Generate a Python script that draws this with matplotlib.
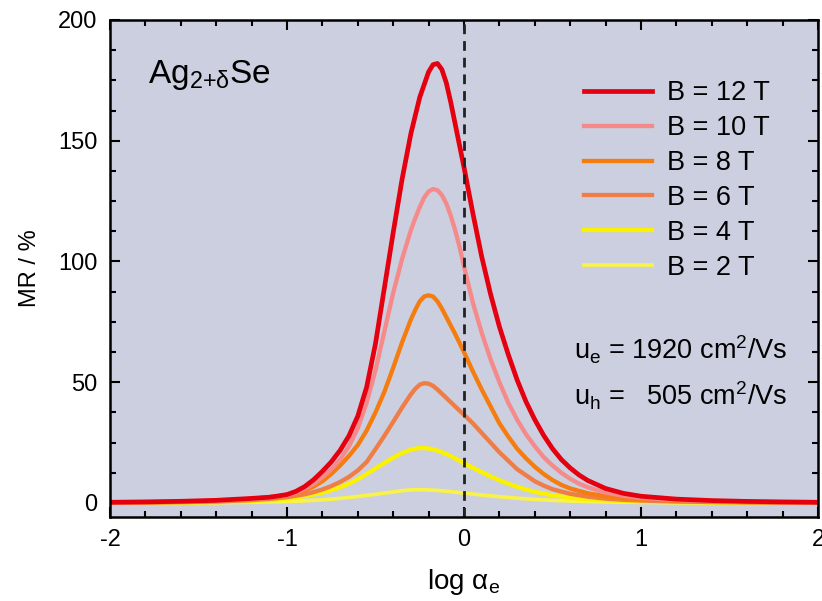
import matplotlib
matplotlib.use("Agg")
import matplotlib.pyplot as plt
from matplotlib.ticker import MultipleLocator

plt.rcParams['font.family'] = ['Liberation Sans', 'DejaVu Sans']
plt.rcParams['mathtext.fontset'] = 'custom'
plt.rcParams['mathtext.rm'] = 'Liberation Sans'
plt.rcParams['mathtext.it'] = 'Liberation Sans:italic'
plt.rcParams['axes.unicode_minus'] = False

# values (x = log alpha_e, y = MR in %)
x12 = [-2.0, -1.8, -1.6, -1.4, -1.2, -1.1, -1.05, -1.0, -0.95, -0.9, -0.85, -0.8, -0.75,
       -0.7, -0.65, -0.6, -0.55, -0.5, -0.45, -0.4, -0.35, -0.3, -0.25, -0.2, -0.175,
       -0.15, -0.125, -0.1, -0.075, -0.05, -0.025, 0.0, 0.05, 0.1, 0.15, 0.2, 0.25, 0.3,
       0.35, 0.4, 0.45, 0.5, 0.55, 0.6, 0.65, 0.7, 0.8, 0.9, 1.0, 1.2, 1.4, 1.6, 1.8, 2.0]
mr12 = [0.3, 0.45, 0.7, 1.1, 1.9, 2.4, 2.9, 3.5, 4.8, 6.8, 9.6, 13.1, 17,
        21.8, 27.8, 36, 48, 66, 89, 112, 134, 153, 168, 178.5, 181.5,
        182, 179.5, 174, 166, 157, 148, 139, 120, 102, 86.5, 73, 61.5, 51,
        42, 34.5, 28, 22.5, 18, 14.5, 11.6, 9.3, 6.0, 4.0, 2.8, 1.6, 1.0, 0.65, 0.45, 0.3]

x10 = [-2.0, -1.8, -1.6, -1.4, -1.2, -1.1, -1.0, -0.95, -0.9, -0.85, -0.8, -0.75, -0.7,
       -0.65, -0.6, -0.55, -0.5, -0.45, -0.4, -0.35, -0.3, -0.275, -0.25, -0.225, -0.2,
       -0.175, -0.15, -0.125, -0.1, -0.075, -0.05, -0.025, 0.0, 0.05, 0.1, 0.15, 0.2,
       0.25, 0.3, 0.35, 0.4, 0.45, 0.5, 0.55, 0.6, 0.65, 0.7, 0.8, 0.9, 1.0, 1.2, 1.4,
       1.6, 1.8, 2.0]
mr10 = [0.25, 0.4, 0.6, 1.0, 1.6, 2.3, 3.2, 4.3, 5.8, 7.9, 10.7, 14, 18,
        23.5, 31, 41.5, 55, 71, 87, 101, 113, 118, 122.5, 126.5, 129,
        130, 129.5, 127.5, 124, 119, 113, 106, 98, 83, 70.5, 59.5, 50,
        41.5, 34.5, 28.5, 23.5, 19, 15.5, 12.5, 10, 8, 6.5, 4.3, 3.0, 2.1, 1.2, 0.8,
        0.5, 0.35, 0.25]

x8 = [-2.0, -1.8, -1.6, -1.4, -1.2, -1.1, -1.0, -0.9, -0.85, -0.8, -0.75, -0.7, -0.65,
      -0.6, -0.55, -0.5, -0.45, -0.4, -0.35, -0.3, -0.275, -0.25, -0.225, -0.2, -0.175,
      -0.15, -0.125, -0.1, -0.05, 0.0, 0.05, 0.1, 0.15, 0.2, 0.25, 0.3, 0.35, 0.4,
      0.45, 0.5, 0.55, 0.6, 0.7, 0.8, 0.9, 1.0, 1.2, 1.4, 1.6, 1.8, 2.0]
mr8 = [0.2, 0.3, 0.5, 0.9, 1.7, 2.4, 3.4, 5.2, 6.8, 9, 12, 15.5, 19.5,
       24, 30, 37.5, 46, 56, 66.5, 76, 80, 83.5, 85.5, 86, 85.5,
       83.5, 80.5, 77, 70, 62.5, 54.5, 47, 40, 33, 27.5, 22.5, 18.5, 15,
       12, 9.5, 7.5, 6, 4, 2.8, 2.0, 1.5, 0.9, 0.6, 0.4, 0.25, 0.15]

x6 = [-2.0, -1.8, -1.6, -1.4, -1.2, -1.1, -1.0, -0.9, -0.85, -0.8, -0.75, -0.7, -0.65,
      -0.6, -0.55, -0.5, -0.45, -0.4, -0.35, -0.3, -0.275, -0.25, -0.225, -0.2, -0.175,
      -0.15, -0.1, -0.05, 0.0, 0.05, 0.1, 0.15, 0.2, 0.25, 0.3, 0.35, 0.4, 0.45, 0.5,
      0.6, 0.7, 0.8, 0.9, 1.0, 1.2, 1.4, 1.6, 1.8, 2.0]
mr6 = [0.1, 0.2, 0.35, 0.6, 1.2, 1.7, 2.4, 3.6, 4.5, 5.6, 7, 8.7, 10.8,
       13.5, 17, 22.3, 27.8, 33.6, 39.5, 45, 47.3, 49, 49.6, 49.4, 48.5,
       47, 43.5, 40, 36.5, 33, 29, 25, 21, 17.5, 14, 11.5, 9, 7.2, 5.7,
       3.8, 2.6, 1.8, 1.3, 1.0, 0.6, 0.4, 0.25, 0.15, 0.1]

x4 = [-2.0, -1.8, -1.6, -1.4, -1.2, -1.1, -1.0, -0.9, -0.8, -0.75, -0.7, -0.65, -0.6,
      -0.55, -0.5, -0.45, -0.4, -0.35, -0.3, -0.25, -0.2, -0.15, -0.1, -0.05, 0.0, 0.05,
      0.1, 0.15, 0.2, 0.25, 0.3, 0.35, 0.4, 0.5, 0.6, 0.7, 0.8, 1.0, 1.2, 1.4, 1.6, 1.8,
      2.0]
mr4 = [0.05, 0.1, 0.2, 0.35, 0.8, 1.2, 1.8, 2.8, 4.3, 5.3, 6.5, 8, 9.8,
       12, 14.3, 16.6, 18.8, 20.7, 22.1, 22.8, 22.6, 21.7, 20.3, 18.5, 16.5, 14.6,
       12.8, 11, 9.4, 8, 6.7, 5.6, 4.6, 3.2, 2.2, 1.5, 1.1, 0.6, 0.35, 0.2, 0.15, 0.1,
       0.05]

x2 = [-2.0, -1.6, -1.4, -1.2, -1.0, -0.9, -0.8, -0.7, -0.6, -0.5, -0.4, -0.35, -0.3,
      -0.25, -0.2, -0.15, -0.1, -0.05, 0.0, 0.1, 0.2, 0.3, 0.4, 0.5, 0.6, 0.8, 1.0, 1.2,
      1.5, 2.0]
mr2 = [0.02, 0.08, 0.15, 0.3, 0.6, 0.9, 1.3, 1.9, 2.7, 3.6, 4.6, 5.1, 5.4,
       5.5, 5.4, 5.2, 4.9, 4.5, 4.1, 3.3, 2.6, 2.0, 1.5, 1.1, 0.8, 0.45, 0.25, 0.15,
       0.08, 0.03]

labels = ['B = 12 T', 'B = 10 T', 'B = 8 T', 'B = 6 T', 'B = 4 T', 'B = 2 T']
colors = ['#e5000f', '#f58a8a', '#f57d10', '#ef7d45', '#fbf200', '#f8f24a']
widths = [3.4, 3.1, 3.1, 3.1, 3.1, 2.7]

xs = [x12, x10, x8, x6, x4, x2]
ys = [mr12, mr10, mr8, mr6, mr4, mr2]

fig = plt.figure(figsize=(8.22, 6.01), dpi=100)
ax = fig.add_axes([110 / 822, 1 - 517 / 601, 708 / 822, 497 / 601])
ax.set_facecolor('#cbcfe0')

# small fields drawn first, big ones on top
for xv, yv, c, lw, lab in list(zip(xs, ys, colors, widths, labels))[::-1]:
    ax.plot(xv, yv, color=c, lw=lw, label=lab, solid_joinstyle='round')

ax.axvline(0, color='#222222', lw=2.0, ls=(0, (3.5, 2.5)))

ax.set_xlim(-2, 2)
ax.set_ylim(-5.8, 200)
ax.xaxis.set_major_locator(MultipleLocator(1))
ax.xaxis.set_minor_locator(MultipleLocator(0.2))
ax.yaxis.set_major_locator(MultipleLocator(50))
ax.yaxis.set_minor_locator(MultipleLocator(12.5))
ax.tick_params(which='both', direction='in', top=True, right=True, width=1.5,
               labelsize=17, pad=9)
ax.tick_params(which='major', length=7)
ax.tick_params(which='minor', length=4.5)
for s in ax.spines.values():
    s.set_linewidth(1.8)

ax.set_xlabel('log α$_{\\rm e}$', fontsize=20, labelpad=11)
ax.set_ylabel('MR / %', fontsize=17, labelpad=12)

ax.text(0.054, 0.889, 'Ag$_{\\rm 2{+}δ}$Se', transform=ax.transAxes, fontsize=24,
        va='center', ha='left')
ax.text(0.655, 0.336, 'u$_{\\rm e}$ = 1920 cm$^2$/Vs', transform=ax.transAxes,
        fontsize=19.5, va='center', ha='left')
ax.text(0.655, 0.243, 'u$_{\\rm h}$ =   505 cm$^2$/Vs', transform=ax.transAxes,
        fontsize=19.5, va='center', ha='left')

h, l = ax.get_legend_handles_labels()
ax.legend(h[::-1], l[::-1], loc='upper left', bbox_to_anchor=(0.67, 0.879),
          frameon=False, fontsize=19.5, handlelength=2.5, handletextpad=0.55,
          labelspacing=0.33, borderpad=0, borderaxespad=0)

fig.savefig('out.png', dpi=100)
